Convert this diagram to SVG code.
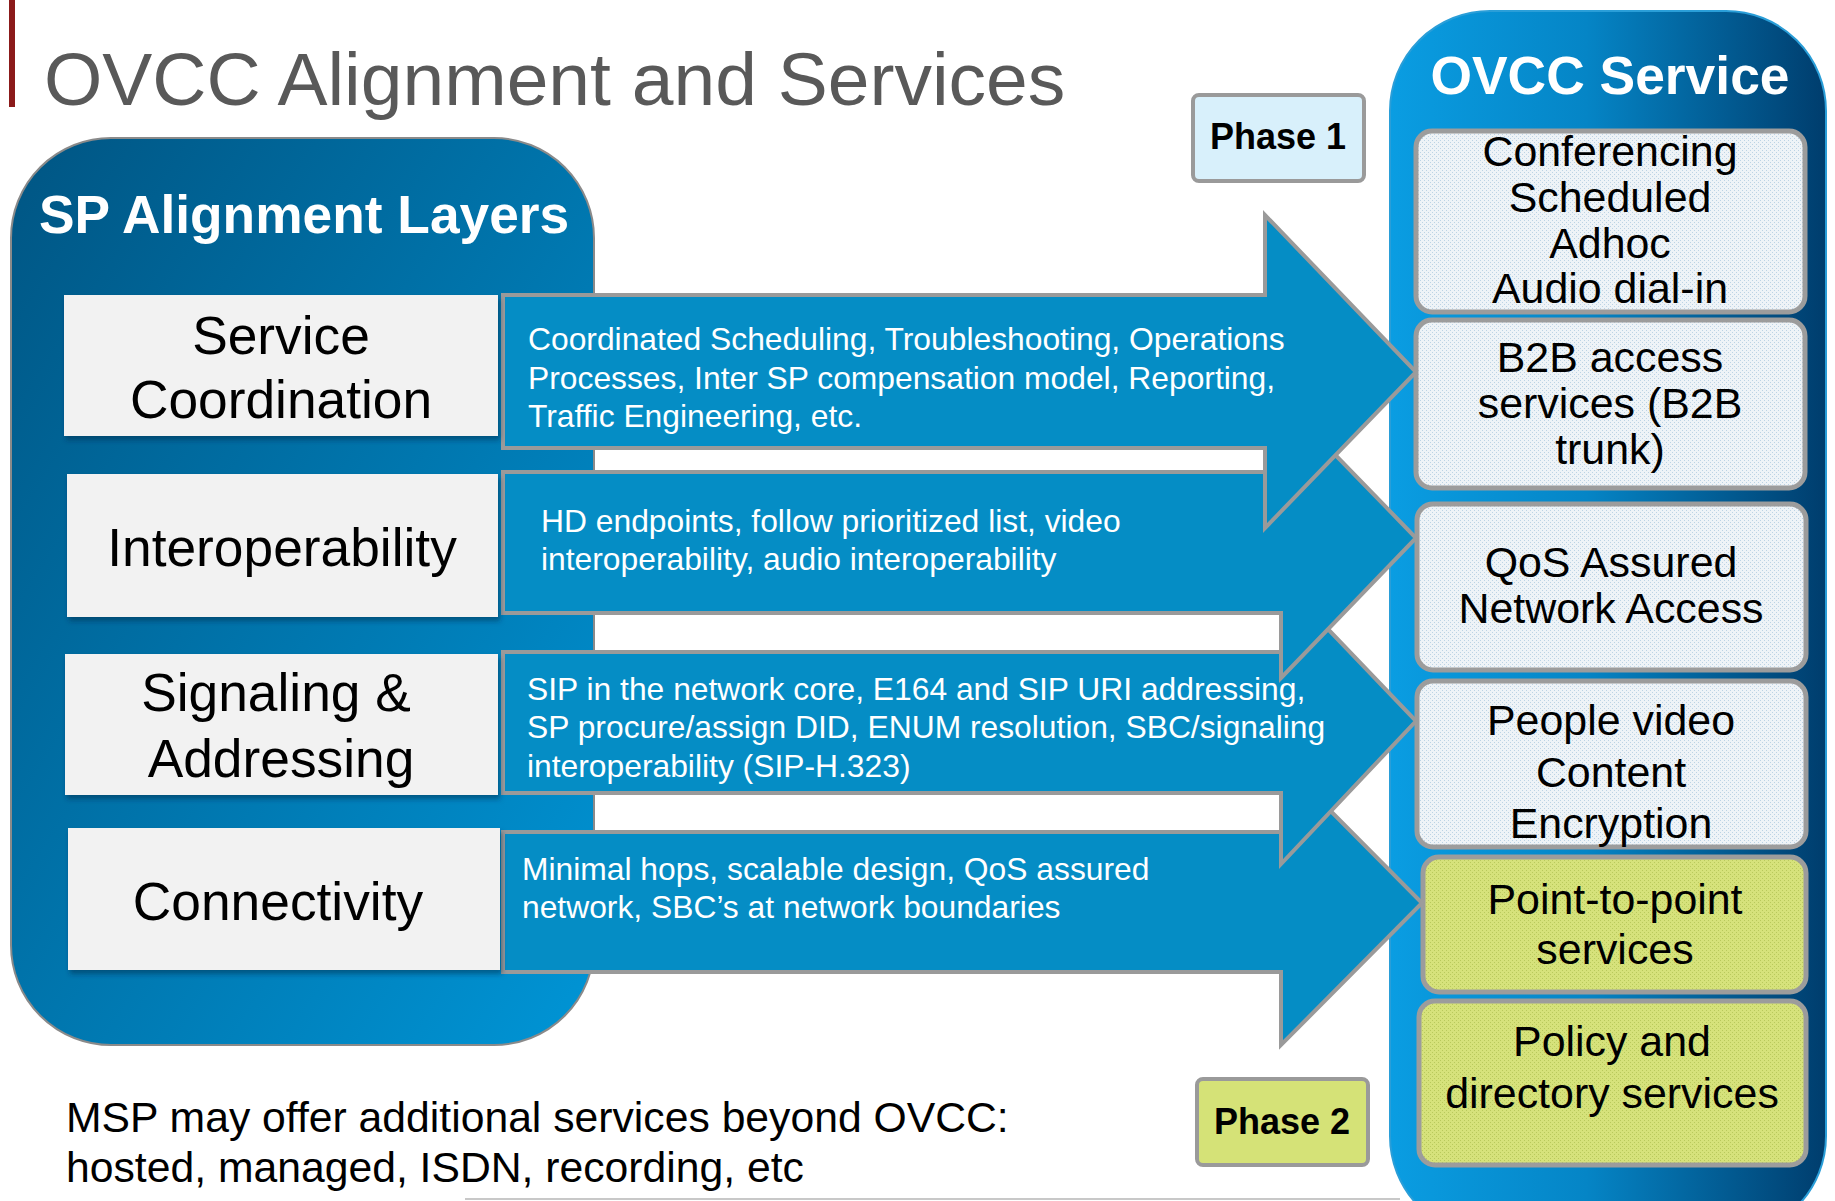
<svg xmlns="http://www.w3.org/2000/svg" width="1835" height="1201" viewBox="0 0 1835 1201">
<defs>
<linearGradient id="gLeft" x1="0" y1="0" x2="1" y2="1">
<stop offset="0" stop-color="#005583"/>
<stop offset="1" stop-color="#0095d6"/>
</linearGradient>
<linearGradient id="gRight" x1="0" y1="0" x2="1" y2="0">
<stop offset="0" stop-color="#0a9de2"/>
<stop offset="0.45" stop-color="#0585c6"/>
<stop offset="1" stop-color="#003d6d"/>
</linearGradient>
<pattern id="dotBlue" patternUnits="userSpaceOnUse" width="4" height="4">
<rect width="4" height="4" fill="#eef3f7"/>
<rect x="0" y="0" width="1" height="1" fill="#bcd3e4"/>
<rect x="2" y="2" width="1" height="1" fill="#bcd3e4"/>
</pattern>
<pattern id="dotGreen" patternUnits="userSpaceOnUse" width="4" height="4">
<rect width="4" height="4" fill="#d6e27b"/>
<rect x="0" y="0" width="1" height="1" fill="#b9c95c"/>
<rect x="2" y="2" width="1" height="1" fill="#b9c95c"/>
</pattern>
<filter id="shadow" x="-5%" y="-5%" width="115%" height="125%">
<feDropShadow dx="2" dy="4" stdDeviation="2.5" flood-color="#002a48" flood-opacity="0.5"/>
</filter>
</defs>
<style>
.title{font-family:"Liberation Sans",Arial,sans-serif;font-size:75px;fill:#595959}
.hdr{font-family:"Liberation Sans",Arial,sans-serif;font-weight:bold;fill:#ffffff}
.layer{fill:#f2f2f2;filter:url(#shadow)}
.layerText{font-family:"Liberation Sans",Arial,sans-serif;font-size:53.3px;fill:#000000;text-anchor:middle}
.arrow{fill:#058dc5;stroke:#9a9a9a;stroke-width:4;stroke-linejoin:miter}
.arrowText{font-family:"Liberation Sans",Arial,sans-serif;font-size:31.8px;fill:#ffffff}
.svc{stroke:#9c9c9c;stroke-width:5}
.svcText{font-family:"Liberation Sans",Arial,sans-serif;font-size:42.9px;fill:#000000;text-anchor:middle}
.phase{stroke:#9a9a9a;stroke-width:4}
.phaseText{font-family:"Liberation Sans",Arial,sans-serif;font-weight:bold;font-size:36px;fill:#000000;text-anchor:middle}
.note{font-family:"Liberation Sans",Arial,sans-serif;font-size:42.7px;fill:#000000}
</style>
<rect width="1835" height="1201" fill="#ffffff"/>
<line x1="465" y1="1199" x2="1400" y2="1199" stroke="#c8c8c8" stroke-width="2"/>
<rect x="9" y="0" width="6" height="107" fill="#8b1a1a"/>
<text class="title" x="44" y="105">OVCC Alignment and Services</text>

<g id="sp-alignment-layers">
<rect x="11" y="138" width="583" height="907" rx="100" ry="100" fill="url(#gLeft)" stroke="#8a8a8a" stroke-width="2"/>
<text class="hdr" x="39" y="233" font-size="53.3">SP Alignment Layers</text>
</g>

<g id="ovcc-service">
<rect x="1390" y="11" width="436" height="1225" rx="100" ry="100" fill="url(#gRight)" stroke="#2a9ed8" stroke-width="2"/>
<text class="hdr" x="1610" y="94" font-size="53.4" text-anchor="middle">OVCC Service</text>
</g>

<g id="connectors">
<path class="arrow" d="M503,832 L1281,832 L1281,761 L1422,903 L1281,1045 L1281,972 L503,972 Z"/>
<path class="arrow" d="M503,652 L1281,652 L1281,580 L1416,721 L1281,864 L1281,793 L503,793 Z"/>
<path class="arrow" d="M503,472 L1281,472 L1281,399 L1416,538 L1281,678 L1281,613 L503,613 Z"/>
<path class="arrow" d="M503,295 L1265,295 L1265,215 L1416,372 L1265,528 L1265,448 L503,448 Z"/>
<text class="arrowText" x="528" y="350">Coordinated Scheduling, Troubleshooting, Operations</text>
<text class="arrowText" x="528" y="389">Processes, Inter SP compensation model, Reporting,</text>
<text class="arrowText" x="528" y="427">Traffic Engineering, etc.</text>
<text class="arrowText" x="541" y="532">HD endpoints, follow prioritized list, video</text>
<text class="arrowText" x="541" y="570">interoperability, audio interoperability</text>
<text class="arrowText" x="527" y="700">SIP in the network core, E164 and SIP URI addressing,</text>
<text class="arrowText" x="527" y="738">SP procure/assign DID, ENUM resolution, SBC/signaling</text>
<text class="arrowText" x="527" y="777">interoperability (SIP-H.323)</text>
<text class="arrowText" x="522" y="880">Minimal hops, scalable design, QoS assured</text>
<text class="arrowText" x="522" y="918">network, SBC’s at network boundaries</text>
</g>

<g id="layer-service-coordination">
<rect class="layer" x="64" y="295" width="434" height="141"/>
<text class="layerText" x="281" y="354">Service</text>
<text class="layerText" x="281" y="418">Coordination</text>
</g>
<g id="layer-interoperability">
<rect class="layer" x="67" y="474" width="431" height="143"/>
<text class="layerText" x="282" y="566">Interoperability</text>
</g>
<g id="layer-signaling-addressing">
<rect class="layer" x="65" y="654" width="433" height="141"/>
<text class="layerText" x="276" y="711">Signaling &amp;</text>
<text class="layerText" x="281" y="777">Addressing</text>
</g>
<g id="layer-connectivity">
<rect class="layer" x="68" y="828" width="432" height="142"/>
<text class="layerText" x="278" y="920">Connectivity</text>
</g>

<g id="svc-conferencing">
<rect class="svc" x="1416" y="131" width="389" height="181" rx="16" fill="url(#dotBlue)"/>
<text class="svcText" x="1610" y="166">Conferencing</text>
<text class="svcText" x="1610" y="212">Scheduled</text>
<text class="svcText" x="1610" y="258">Adhoc</text>
<text class="svcText" x="1610" y="303">Audio dial-in</text>
</g>
<g id="svc-b2b">
<rect class="svc" x="1416" y="320" width="389" height="168" rx="16" fill="url(#dotBlue)"/>
<text class="svcText" x="1610" y="372">B2B access</text>
<text class="svcText" x="1610" y="418">services (B2B</text>
<text class="svcText" x="1610" y="464">trunk)</text>
</g>
<g id="svc-qos">
<rect class="svc" x="1417" y="504" width="389" height="166" rx="16" fill="url(#dotBlue)"/>
<text class="svcText" x="1611" y="577">QoS Assured</text>
<text class="svcText" x="1611" y="623">Network Access</text>
</g>
<g id="svc-people">
<rect class="svc" x="1417" y="681" width="389" height="166" rx="16" fill="url(#dotBlue)"/>
<text class="svcText" x="1611" y="735">People video</text>
<text class="svcText" x="1611" y="787">Content</text>
<text class="svcText" x="1611" y="838">Encryption</text>
</g>
<g id="svc-p2p">
<rect class="svc" x="1423" y="857" width="383" height="135" rx="16" fill="url(#dotGreen)"/>
<text class="svcText" x="1615" y="914">Point-to-point</text>
<text class="svcText" x="1615" y="964">services</text>
</g>
<g id="svc-policy">
<rect class="svc" x="1419" y="1001" width="387" height="164" rx="16" fill="url(#dotGreen)"/>
<text class="svcText" x="1612" y="1056">Policy and</text>
<text class="svcText" x="1612" y="1108">directory services</text>
</g>

<g id="phase-1">
<rect class="phase" x="1193" y="95" width="171" height="86" rx="6" fill="#d8f0fb"/>
<text class="phaseText" x="1278" y="149">Phase 1</text>
</g>
<g id="phase-2">
<rect class="phase" x="1197" y="1079" width="171" height="86" rx="6" fill="#d5e277"/>
<text class="phaseText" x="1282" y="1134">Phase 2</text>
</g>

<g id="note">
<text class="note" x="66" y="1132">MSP may offer additional services beyond OVCC:</text>
<text class="note" x="66" y="1182">hosted, managed, ISDN, recording, etc</text>
</g>
</svg>
